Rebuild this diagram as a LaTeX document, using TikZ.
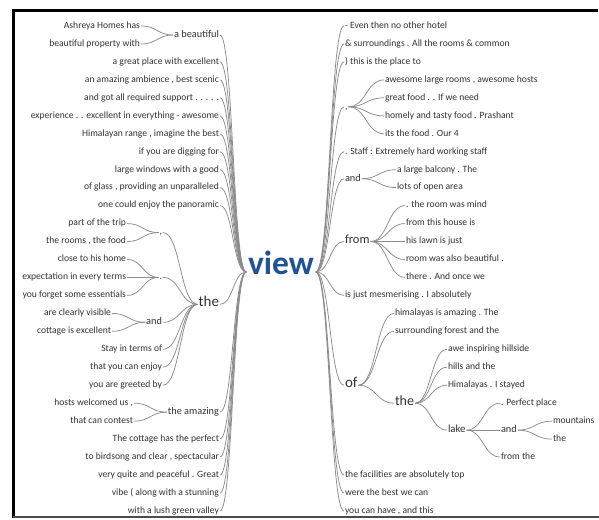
\documentclass[tikz,border=0pt]{standalone}
\usepackage{fontspec}
\setmainfont{Carlito}
\usetikzlibrary{calc}
\definecolor{txt}{HTML}{333333}
\definecolor{ln}{HTML}{8C8C8C}
\definecolor{vb}{RGB}{33,82,145}
\tikzset{
  w/.style={inner sep=1pt, outer sep=0pt, text=txt, text height=0.47em, text depth=0pt, font=\fontsize{9.6}{10}\selectfont},
  le/.style={w, anchor=east},
  ri/.style={w, anchor=west},
  mid/.style={font=\fontsize{10.3}{11}\selectfont},
  conn/.style={draw=ln, line width=0.75pt},
}
\newcommand\lnk[2]{\draw[conn] let \p1=(#1), \p2=(#2) in (\p1) .. controls ({(\x1+\x2)/2},\y1) and ({(\x1+\x2)/2},\y2) .. (\p2);}
\begin{document}
\begin{tikzpicture}[x=1pt,y=-1pt]
\useasboundingbox (0,0) rectangle (599,519);
\fill[white] (0,0) rectangle (599,519);
% frame
\draw[line width=2.5pt, black] (12,10.5) -- (598,10.5);
\draw[line width=2.5pt, black] (13.5,9.5) -- (13.5,517.5);
\draw[line width=1.5pt, black!70] (12.5,517.2) -- (599,517.2);

% root
\node[inner sep=2pt, outer sep=0pt, text=vb, text height=0.47em, text depth=0pt, font=\fontsize{33.5}{36}\selectfont\bfseries] (vw) at (281,272) {view};

% ---------------- left side ----------------
\node[le,mid] (Labe) at (220,35) {a beautiful};
\node[le] (L0) at (141,26) {Ashreya Homes has};
\node[le] (L1) at (141,44) {beautiful property with};
\node[le] (L2) at (220,61.9) {a great place with excellent};
\node[le] (L3) at (220,79.9) {an amazing ambience , best scenic};
\node[le] (L4) at (220,97.8) {and got all required support . . . . .};
\node[le] (L5) at (220,115.9) {experience . . excellent in everything - awesome};
\node[le] (L6) at (220,133.8) {Himalayan range , imagine the best};
\node[le] (L7) at (220,151.7) {if you are digging for};
\node[le] (L8) at (220,169.7) {large windows with a good};
\node[le] (L9) at (220,187.6) {of glass , providing an unparalleled};
\node[le] (L10) at (220,205.6) {one could enjoy the panoramic};

\node[le,font=\fontsize{15}{16}\selectfont] (Lthe) at (220,304.4) {the};
\node[le] (Lcom) at (163,232.6) {,};
\node[le] (L11) at (127,223.6) {part of the trip};
\node[le] (L12) at (127,241.5) {the rooms , the food};
\node[le] (Ldot) at (163,277.4) {.};
\node[le] (L13) at (127,259.5) {close to his home};
\node[le] (L14) at (127,277.4) {expectation in every terms};
\node[le] (L15) at (127,295.4) {you forget some essentials};
\node[le,mid] (Land) at (163,322.3) {and};
\node[le] (L16) at (112,313.4) {are clearly visible};
\node[le] (L17) at (112,331.3) {cottage is excellent};
\node[le] (L18) at (163,349.3) {Stay in terms of};
\node[le] (L19) at (163,367.2) {that you can enjoy};
\node[le] (L20) at (163,385.2) {you are greeted by};

\node[le,mid] (Lam) at (220,412.1) {the amazing};
\node[le] (L21) at (134,403.2) {hosts welcomed us ,};
\node[le] (L22) at (134,421.1) {that can contest};
\node[le] (L23) at (220,439.1) {The cottage has the perfect};
\node[le] (L24) at (220,457) {to birdsong and clear , spectacular};
\node[le] (L25) at (220,475) {very quite and peaceful . Great};
\node[le] (L26) at (220,493) {vibe ( along with a stunning};
\node[le] (L27) at (220,511) {with a lush green valley};

% left links
\lnk{L0.east}{Labe.west}
\lnk{L1.east}{Labe.west}
\foreach \nm in {Labe,L2,L3,L4,L5,L6,L7,L8,L9,L10,Lthe,Lam,L23,L24,L25,L26,L27}{\lnk{\nm.east}{vw.west}}
\lnk{L11.east}{Lcom.west}
\lnk{L12.east}{Lcom.west}
\lnk{L13.east}{Ldot.west}
\lnk{L14.east}{Ldot.west}
\lnk{L15.east}{Ldot.west}
\lnk{L16.east}{Land.west}
\lnk{L17.east}{Land.west}
\foreach \nm in {Lcom,Ldot,Land,L18,L19,L20}{\lnk{\nm.east}{Lthe.west}}
\lnk{L21.east}{Lam.west}
\lnk{L22.east}{Lam.west}

% ---------------- right side ----------------
\node[ri] (R0) at (344,26) {- Even then no other hotel};
\node[ri] (R1) at (344,44) {\& surroundings . All the rooms \& common};
\node[ri] (R2) at (344,61.9) {) this is the place to};
\node[ri] (Rcom) at (344,106.8) {,};
\node[ri] (R3) at (384,79.9) {awesome large rooms , awesome hosts};
\node[ri] (R4) at (384,97.8) {great food . . If we need};
\node[ri] (R5) at (384,115.9) {homely and tasty food . Prashant};
\node[ri] (R6) at (384,133.8) {its the food . Our 4};
\node[ri] (R7) at (344,151.7) {. Staff : Extremely hard working staff};
\node[ri,mid] (Rand) at (344,178.7) {and};
\node[ri] (R8) at (396,169.7) {a large balcony . The};
\node[ri] (R9) at (396,187.6) {lots of open area};
\node[ri,font=\fontsize{12.5}{13}\selectfont] (Rfrom) at (344,241.5) {from};
\node[ri] (R10) at (405,205.6) {. the room was mind};
\node[ri] (R11) at (405,223.6) {from this house is};
\node[ri] (R12) at (405,241.5) {his lawn is just};
\node[ri] (R13) at (405,259.5) {room was also beautiful .};
\node[ri] (R14) at (405,277.4) {there . And once we};
\node[ri] (R15) at (344,295.4) {is just mesmerising . I absolutely};
\node[ri,font=\fontsize{15}{16}\selectfont] (Rof) at (344,385.2) {of};
\node[ri] (R16) at (394,313.4) {himalayas is amazing . The};
\node[ri] (R17) at (394,331.3) {surrounding forest and the};
\node[ri,font=\fontsize{14}{15}\selectfont] (Rthe) at (394,403.2) {the};
\node[ri] (R18) at (447,349.3) {awe inspiring hillside};
\node[ri] (R19) at (447,367.2) {hills and the};
\node[ri] (R20) at (447,385.2) {Himalayas . I stayed};
\node[ri,font=\fontsize{10.8}{11}\selectfont] (Rlake) at (447,430.1) {lake};
\node[ri] (R21) at (500,403.2) {. Perfect place};
\node[ri,mid] (Rand2) at (500,430.1) {and};
\node[ri] (R22) at (552,421.1) {mountains};
\node[ri] (R23) at (552,439.1) {the};
\node[ri] (R24) at (500,457) {from the};
\node[ri] (R25) at (344,475) {the facilities are absolutely top};
\node[ri] (R26) at (344,493) {were the best we can};
\node[ri] (R27) at (344,511) {you can have , and this};

% right links
\foreach \nm in {R0,R1,R2,Rcom,R7,Rand,Rfrom,R15,Rof,R25,R26,R27}{\lnk{vw.east}{\nm.west}}
\foreach \nm in {R3,R4,R5,R6}{\lnk{Rcom.east}{\nm.west}}
\foreach \nm in {R8,R9}{\lnk{Rand.east}{\nm.west}}
\foreach \nm in {R10,R11,R12,R13,R14}{\lnk{Rfrom.east}{\nm.west}}
\foreach \nm in {R16,R17,Rthe}{\lnk{Rof.east}{\nm.west}}
\foreach \nm in {R18,R19,R20,Rlake}{\lnk{Rthe.east}{\nm.west}}
\foreach \nm in {R21,Rand2,R24}{\lnk{Rlake.east}{\nm.west}}
\foreach \nm in {R22,R23}{\lnk{Rand2.east}{\nm.west}}
\end{tikzpicture}
\end{document}
